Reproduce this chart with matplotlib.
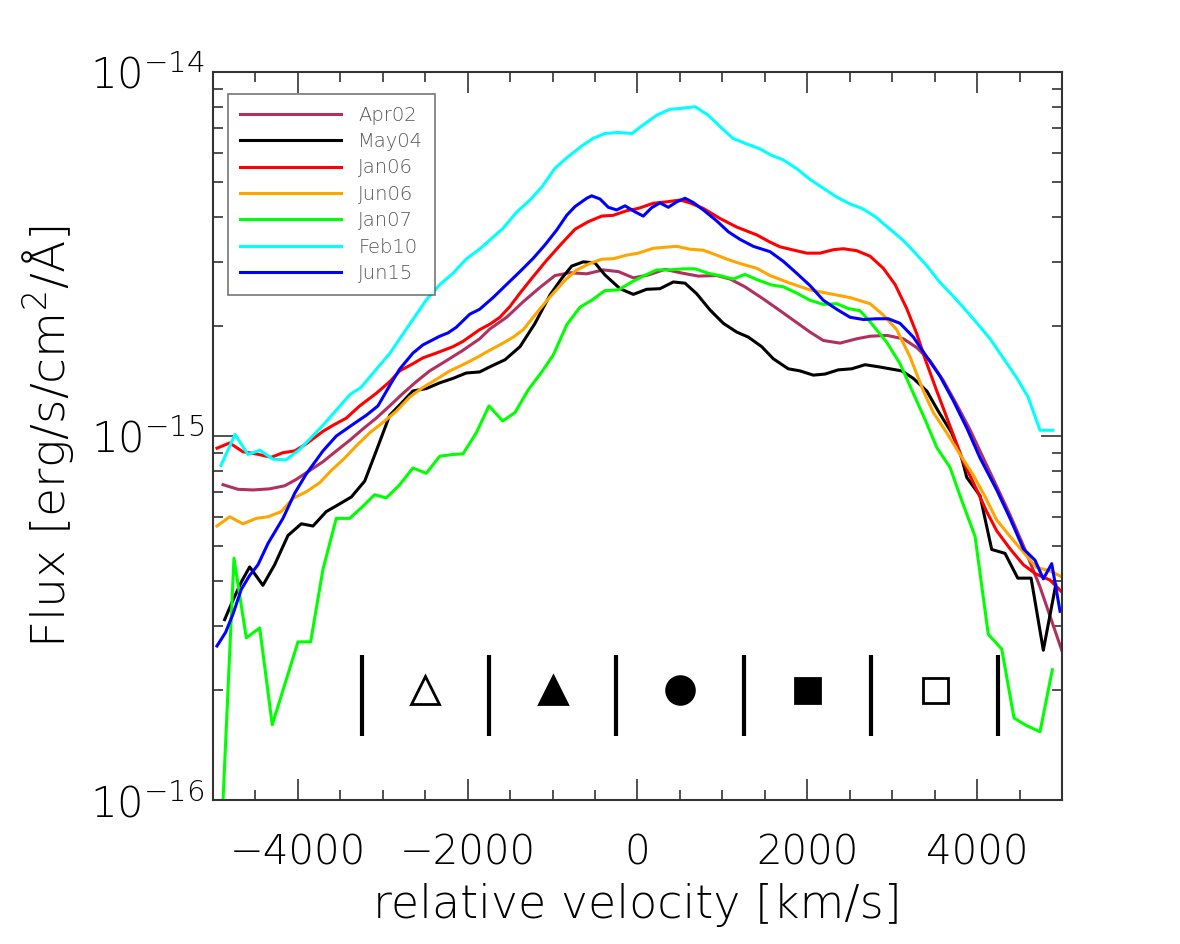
import numpy as np
import matplotlib
matplotlib.use("Agg")
import matplotlib.pyplot as plt
from matplotlib.ticker import LogLocator, MultipleLocator, NullFormatter, FixedLocator

plt.rcParams['font.family'] = ['DejaVu Sans']
plt.rcParams['font.weight'] = 'light'
plt.rcParams['axes.labelweight'] = 'light'
plt.rcParams['mathtext.fontset'] = 'custom'
plt.rcParams['mathtext.rm'] = 'DejaVu Sans:light'
plt.rcParams['mathtext.it'] = 'DejaVu Sans:light'
plt.rcParams['mathtext.default'] = 'rm'

# flux in units of 1e-15 erg/s/cm2/A, velocity in km/s
v_apr02 = [-4882, -4706, -4529, -4333, -4156, -4019, -3861, -3705, -3548, -3390, -3234, -3077,
           -2919, -2762, -2606, -2448, -2252, -2056, -1859, -1737, -1541, -1345, -1149, -972,
           -795, -598, -403, -226, -49, 127, 324, 501, 716, 933, 1090, 1266, 1482, 1679, 1875,
           2032, 2189, 2385, 2582, 2739, 2936, 3131, 3289, 3446, 3602, 3760, 3917, 4073, 4231,
           4388, 4545, 4741, 4859, 4997]
f_apr02 = [0.735, 0.714, 0.711, 0.716, 0.73, 0.76, 0.804, 0.85, 0.91, 0.973, 1.046, 1.12,
           1.21, 1.31, 1.41, 1.51, 1.61, 1.72, 1.85, 1.97, 2.12, 2.34, 2.56, 2.76,
           2.81, 2.79, 2.86, 2.83, 2.72, 2.77, 2.87, 2.81, 2.75, 2.76, 2.70, 2.57, 2.38, 2.21, 2.05,
           1.93, 1.83, 1.80, 1.85, 1.88, 1.89, 1.85, 1.75, 1.61, 1.42, 1.22, 1.04, 0.87, 0.727,
           0.607, 0.50, 0.385, 0.32, 0.258]

v_may04 = [-4863, -4765, -4667, -4568, -4412, -4274, -4117, -3960, -3822, -3666, -3528, -3371,
           -3213, -3077, -2919, -2782, -2645, -2488, -2330, -2173, -2017, -1859, -1737, -1561,
           -1384, -1207, -1031, -893, -775, -638, -501, -383, -206, -49, 108, 265, 422, 560, 697,
           854, 1011, 1169, 1305, 1463, 1600, 1776, 1914, 2071, 2209, 2365, 2523, 2680, 2837,
           2974, 3112, 3249, 3407, 3543, 3701, 3819, 3878, 4035, 4172, 4329, 4479, 4636, 4780, 4926]
f_may04 = [0.313, 0.354, 0.397, 0.437, 0.389, 0.443, 0.533, 0.574, 0.566, 0.62, 0.647, 0.68,
           0.752, 0.91, 1.14, 1.23, 1.33, 1.35, 1.40, 1.44, 1.49, 1.50, 1.55, 1.62,
           1.76, 2.04, 2.44, 2.71, 2.93, 3.01, 2.99, 2.77, 2.54, 2.45, 2.53, 2.54, 2.65, 2.63, 2.46,
           2.22, 2.04, 1.93, 1.87, 1.76, 1.63, 1.53, 1.51, 1.47, 1.48, 1.52, 1.53, 1.57, 1.55,
           1.53, 1.51, 1.44, 1.33, 1.17, 1.02, 0.87, 0.77, 0.685, 0.488, 0.476, 0.407, 0.407, 0.258, 0.39]

v_jan06 = [-4953, -4804, -4647, -4490, -4314, -4176, -4038, -3901, -3705, -3587, -3430, -3272,
           -3077, -2919, -2801, -2645, -2527, -2370, -2173, -2056, -1859, -1737, -1620, -1502,
           -1384, -1246, -1070, -893, -736, -580, -422, -285, -127, 9, 186, 344, 501, 618, 775,
           972, 1169, 1404, 1561, 1679, 1796, 1993, 2150, 2307, 2424, 2582, 2739, 2895, 3033,
           3171, 3289, 3387, 3525, 3681, 3838, 3996, 4113, 4231, 4388, 4545, 4683, 4859, 4997]
f_jan06 = [0.926, 0.957, 0.905, 0.893, 0.874, 0.90, 0.91, 0.952, 1.03, 1.07, 1.12, 1.21,
           1.31, 1.41, 1.51, 1.58, 1.64, 1.69, 1.76, 1.82, 1.96, 2.03, 2.12, 2.27,
           2.47, 2.71, 3.04, 3.38, 3.70, 3.88, 4.02, 4.04, 4.16, 4.22, 4.36, 4.40, 4.45, 4.37, 4.22,
           3.96, 3.75, 3.57, 3.41, 3.31, 3.26, 3.18, 3.18, 3.25, 3.27, 3.23, 3.12, 2.89, 2.61,
           2.24, 1.91, 1.63, 1.33, 1.065, 0.85, 0.711, 0.62, 0.549, 0.49, 0.443, 0.419, 0.402, 0.373]

v_jun06 = [-4953, -4804, -4647, -4490, -4352, -4196, -4058, -3901, -3744, -3607, -3449, -3312,
           -3155, -2998, -2841, -2683, -2527, -2370, -2212, -2056, -1899, -1741, -1584, -1463,
           -1345, -1187, -1031, -854, -716, -560, -422, -285, -127, 9, 186, 324, 462, 618, 775,
           933, 1090, 1246, 1404, 1561, 1796, 2032, 2268, 2503, 2739, 2895, 3053, 3210, 3367,
           3485, 3643, 3799, 3956, 4073, 4231, 4388, 4545, 4697, 4859, 5000]
f_jun06 = [0.566, 0.60, 0.574, 0.594, 0.60, 0.62, 0.674, 0.703, 0.744, 0.804, 0.87, 0.94,
           1.02, 1.09, 1.17, 1.28, 1.36, 1.43, 1.51, 1.57, 1.64, 1.72, 1.80, 1.87,
           1.96, 2.18, 2.41, 2.68, 2.86, 2.98, 3.06, 3.07, 3.14, 3.18, 3.28, 3.30, 3.32, 3.26, 3.24,
           3.14, 3.04, 2.96, 2.89, 2.76, 2.63, 2.52, 2.46, 2.40, 2.31, 2.15, 1.96, 1.65, 1.33,
           1.16, 1.02, 0.89, 0.78, 0.696, 0.588, 0.53, 0.48, 0.436, 0.426, 0.41]

v_jan07 = [-4906, -4753, -4608, -4450, -4302, -3999, -3850, -3705, -3548, -3390, -3254, -3096,
           -2959, -2801, -2645, -2488, -2330, -2173, -2056, -1899, -1749, -1588, -1443, -1286,
           -1128, -992, -834, -677, -540, -383, -226, -68, 68, 226, 383, 540, 677, 834, 992,
           1128, 1266, 1423, 1581, 1717, 1875, 2032, 2189, 2346, 2483, 2621, 2739, 2936, 3092,
           3249, 3387, 3525, 3681, 3819, 3976, 4132, 4290, 4435, 4585, 4741, 4886]
f_jan07 = [0.075, 0.462, 0.279, 0.297, 0.161, 0.272, 0.272, 0.43, 0.594, 0.594, 0.635, 0.69,
           0.676, 0.735, 0.817, 0.79, 0.88, 0.89, 0.893, 1.02, 1.21, 1.10, 1.16, 1.34,
           1.50, 1.67, 2.02, 2.26, 2.36, 2.51, 2.52, 2.65, 2.75, 2.86, 2.86, 2.88, 2.88, 2.80, 2.75,
           2.70, 2.78, 2.68, 2.60, 2.57, 2.47, 2.36, 2.30, 2.31, 2.24, 2.21, 2.06, 1.81, 1.58,
           1.31, 1.11, 0.93, 0.82, 0.665, 0.53, 0.285, 0.26, 0.168, 0.16, 0.154, 0.228]

v_feb10 = [-4906, -4741, -4588, -4447, -4294, -4141, -3976, -3705, -3387, -3257, -2915, -2645,
           -2491, -2326, -2173, -2020, -1855, -1584, -1420, -1266, -1125, -972, -819, -654,
           -524, -383, -230, -65, 65, 230, 383, 524, 677, 830, 995, 1125, 1290, 1443, 1561,
           1714, 1879, 2032, 2185, 2350, 2503, 2644, 2798, 2951, 3116, 3246, 3411, 3564, 3705,
           3835, 4000, 4153, 4306, 4471, 4600, 4741, 4894]
f_feb10 = [0.83, 1.01, 0.89, 0.914, 0.864, 0.86, 0.92, 1.07, 1.30, 1.36, 1.69, 2.09,
           2.36, 2.61, 2.80, 3.06, 3.27, 3.72, 4.13, 4.45, 4.84, 5.44, 5.85, 6.27,
           6.57, 6.78, 6.82, 6.78, 7.15, 7.62, 7.90, 7.95, 8.03, 7.62, 7.00, 6.57, 6.34, 6.15, 5.93,
           5.74, 5.42, 5.07, 4.80, 4.53, 4.34, 4.22, 4.01, 3.74, 3.47, 3.23, 2.93, 2.64, 2.44,
           2.26, 2.04, 1.85, 1.64, 1.44, 1.28, 1.037, 1.037]

v_jun15 = [-4953, -4851, -4765, -4667, -4568, -4470, -4352, -4176, -4038, -3901, -3705, -3548,
           -3351, -3195, -3057, -2900, -2801, -2645, -2527, -2330, -2232, -2134, -1977, -1859,
           -1702, -1541, -1384, -1227, -1090, -952, -834, -736, -598, -540, -442, -344, -245,
           -147, -29, 68, 167, 265, 363, 462, 560, 657, 775, 933, 1070, 1207, 1364, 1561, 1717,
           1875, 2032, 2189, 2346, 2503, 2660, 2818, 2954, 3092, 3249, 3407, 3563, 3720, 3878,
           4035, 4231, 4388, 4545, 4682, 4780, 4879, 4977]
f_jun15 = [0.265, 0.289, 0.324, 0.379, 0.414, 0.443, 0.507, 0.594, 0.696, 0.787, 0.91, 1.0,
           1.077, 1.14, 1.21, 1.40, 1.527, 1.69, 1.78, 1.88, 1.92, 1.99, 2.16, 2.23,
           2.40, 2.61, 2.83, 3.08, 3.35, 3.68, 4.04, 4.27, 4.50, 4.57, 4.48, 4.25, 4.18,
           4.29, 4.13, 4.02, 4.24, 4.37, 4.25, 4.40, 4.50, 4.38, 4.18, 3.90, 3.64, 3.47, 3.32, 3.21, 3.02,
           2.80, 2.59, 2.36, 2.23, 2.12, 2.09, 2.10, 2.10, 2.04, 1.87, 1.65, 1.46, 1.25, 1.053,
           0.87, 0.711, 0.594, 0.49, 0.456, 0.405, 0.446, 0.33]

labels = ["Apr02", "May04", "Jan06", "Jun06", "Jan07", "Feb10", "Jun15"]
colors = ["#B03060", "black", "red", "#FFA500", "#00FF00", "#00FFFF", "blue"]
series = [(v_apr02, f_apr02), (v_may04, f_may04), (v_jan06, f_jan06), (v_jun06, f_jun06),
          (v_jan07, f_jan07), (v_feb10, f_feb10), (v_jun15, f_jun15)]

# velocity bins and their symbols
bin_edges = [-3250, -1750, -250, 1250, 2750, 4250]
bin_mid = [-2500, -1000, 500, 2000, 3500]
bin_marker = ["^", "^", "o", "s", "s"]
bin_fill = ["white", "black", "black", "black", "white"]

fig = plt.figure(figsize=(11.8, 9.44), dpi=100)
ax = fig.add_axes([0.1805, 0.1525, 0.7195, 0.7712])

for (v, f), lab, c in zip(series, labels, colors):
    ax.plot(v, np.array(f) * 1e-15, color=c, lw=2.2, label=lab)

ax.vlines(bin_edges, 1.5e-16, 2.5e-16, color="black", lw=3)
for x, m, fc in zip(bin_mid, bin_marker, bin_fill):
    ax.plot([x], [2.0e-16], marker=m, ms=20 if m != "s" else 18, mfc=fc, mec="black", mew=2,
            ls="none")

ax.set_yscale("log")
ax.set_xlim(-5000, 5000)
ax.set_ylim(1e-16, 1e-14)
ax.xaxis.set_major_locator(MultipleLocator(2000))
ax.xaxis.set_minor_locator(MultipleLocator(500))
ax.yaxis.set_major_locator(FixedLocator([1e-16, 1e-15, 1e-14]))
ax.yaxis.set_minor_locator(LogLocator(base=10, subs=np.arange(2, 10)))
ax.yaxis.set_minor_formatter(NullFormatter())

ax.tick_params(which="both", direction="in", top=True, right=True, width=1.2,
               color="#333333")
ax.tick_params(which="major", length=15)
ax.tick_params(which="minor", length=7)
ax.tick_params(axis="x", labelsize=29, pad=24)
ax.tick_params(axis="y", labelsize=30, pad=6)
for s in ax.spines.values():
    s.set_linewidth(1.5)
    s.set_color("#333333")

ax.set_xlabel("relative velocity [km/s]", fontsize=33, fontweight="light", labelpad=8)
ax.set_ylabel("Flux [erg/s/cm$^2$/Å]", fontsize=34, fontweight="light", labelpad=10)

leg = ax.legend(loc="upper left", bbox_to_anchor=(0.0177, 0.9698), borderaxespad=0,
                frameon=True, fancybox=False, edgecolor="#555555", fontsize=14,
                handlelength=5.2, handletextpad=0.9, labelspacing=0.38, borderpad=0.6)
leg.get_frame().set_linewidth(1.2)
for t in leg.get_texts():
    t.set_color("#555555")

fig.savefig("out.png", dpi=100)
